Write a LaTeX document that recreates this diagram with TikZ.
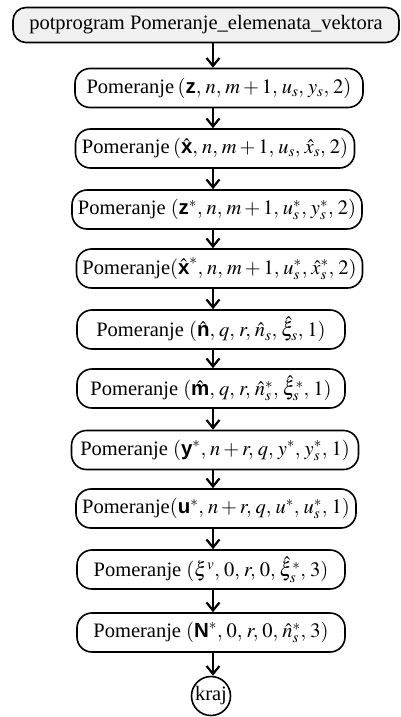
\documentclass[tikz,border=0pt]{standalone}
\usepackage{amsmath}
\usepackage{amssymb}
\usepackage{mathptmx}
\usepackage{fontspec}
\setmainfont{Liberation Serif}
\newfontfamily\vekfont{Liberation Sans}
\usepackage{tikz}
\usetikzlibrary{arrows.meta}

% bold sans vector names
\newcommand{\vek}[1]{\mbox{\vekfont\bfseries #1}}

\tikzset{
  blok/.style={draw, line width=1.6pt, rounded corners=15pt, inner sep=0pt,
    minimum height=39pt, font=\fontsize{20.5}{24}\selectfont},
  tok/.style={line width=1.5pt, -{Straight Barb[length=8pt,width=13pt,line width=2.2pt]}},
}

\begin{document}
\thinmuskip=3.5mu\relax
\begin{tikzpicture}[x=1pt,y=1pt,yscale=-1,xscale=1]
\useasboundingbox (0,0) rectangle (401,717);

%Shape: Rounded Rect (start)
\node [blok, fill=black!6, rounded corners=13pt, minimum width=386pt, minimum height=35pt] (start) at (206,25) {potprogram Pomeranje\_elemenata\_vektora};

%Shape: Rounded Rect
\node [blok, minimum width=288pt] (p1) at (219,88) {Pomeranje\,$(\vek{z},n,m+1,u_s,y_s,2)$};
\node [blok, minimum width=279pt] (p2) at (215,148.5) {Pomeranje\,$(\hat{\vek{x}},n,m+1,u_s,\hat{x}_s,2)$};
\node [blok, minimum width=290pt] (p3) at (217,209.5) {Pomeranje $(\vek{z}^*,n,m+1,u_s^*,y_s^*,2)$};
\node [blok, minimum width=286pt] (p4) at (219.5,268.5) {Pomeranje$(\hat{\vek{x}}^*,n,m+1,u_s^*,\hat{x}_s^*,2)$};
\node [blok, minimum width=268pt] (p5) at (211,329.5) {Pomeranje $(\hat{\vek{n}},q,r,\hat{n}_s,\hat{\xi}_s,1)$};
\node [blok, minimum width=268pt] (p6) at (211,388.5) {Pomeranje $(\hat{\vek{m}},q,r,\hat{n}_s^*,\hat{\xi}_s^*,1)$};
\node [blok, minimum width=287pt] (p7) at (215,450) {Pomeranje $(\vek{y}^*,n+r,q,y^*,y_s^*,1)$};
\node [blok, minimum width=280pt] (p8) at (216,508.5) {Pomeranje$(\vek{u}^*,n+r,q,u^*,u_s^*,1)$};
\node [blok, minimum width=268pt] (p9) at (211,569.5) {Pomeranje $(\xi^{v},0,r,0,\hat{\xi}_s^*,3)$};
\node [blok, minimum width=268pt] (p10) at (211,632.5) {Pomeranje $(\vek{N}^*,0,r,0,\hat{n}_s^*,3)$};

%Shape: Circle (end)
\node [draw, circle, line width=1.6pt, inner sep=0pt, minimum size=39pt, font=\fontsize{20.5}{24}\selectfont] (kraj) at (211,696) {kraj};

%Straight Lines
\coordinate (os) at (213,0);
\draw [tok] (start.south -| os) -- (p1.north -| os);
\draw [tok] (p1.south -| os) -- (p2.north -| os);
\draw [tok] (p2.south -| os) -- (p3.north -| os);
\draw [tok] (p3.south -| os) -- (p4.north -| os);
\draw [tok] (p4.south -| os) -- (p5.north -| os);
\draw [tok] (p5.south -| os) -- (p6.north -| os);
\draw [tok] (p6.south -| os) -- (p7.north -| os);
\draw [tok] (p7.south -| os) -- (p8.north -| os);
\draw [tok] (p8.south -| os) -- (p9.north -| os);
\draw [tok] (p9.south -| os) -- (p10.north -| os);
\draw [tok] (p10.south -| os) -- (kraj.north -| os);

\end{tikzpicture}
\end{document}
